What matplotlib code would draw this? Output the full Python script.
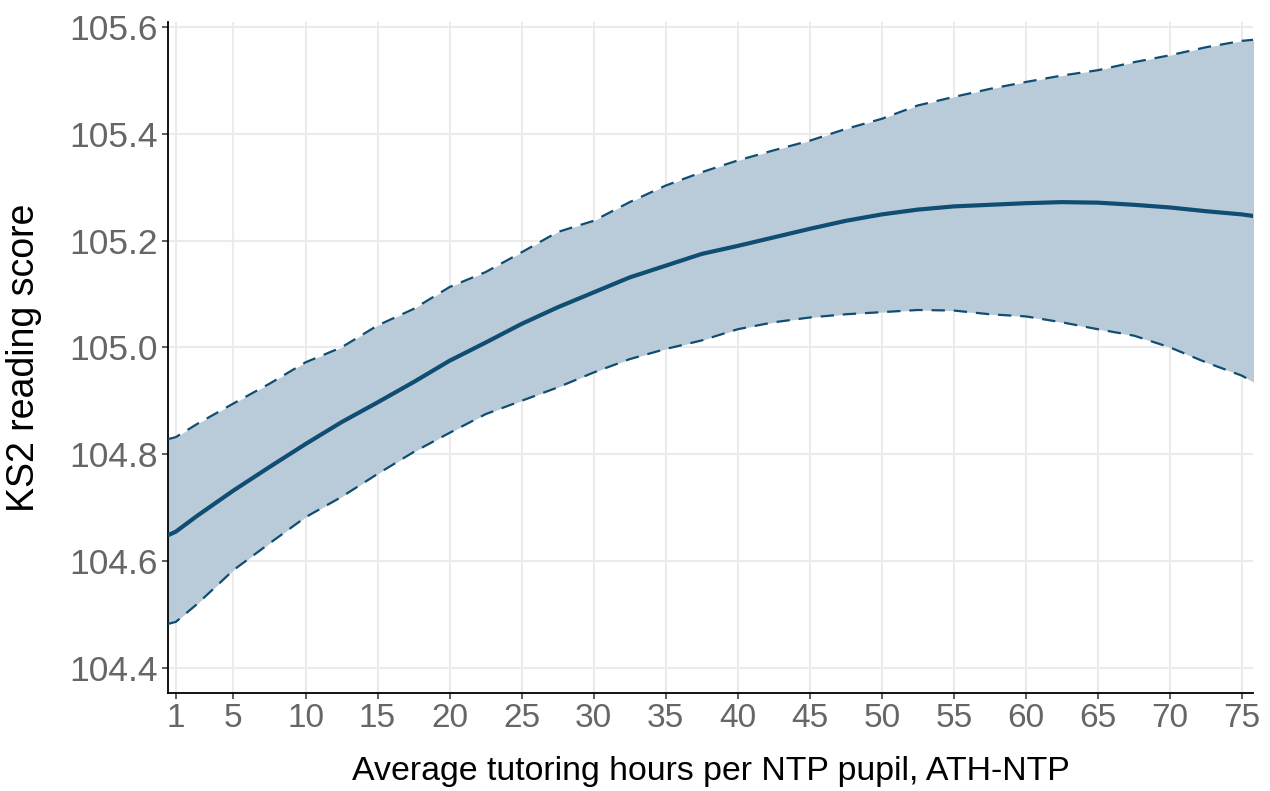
import matplotlib.pyplot as plt

plt.rcParams['font.family'] = ['Liberation Sans', 'DejaVu Sans']

# values, every 2.5 hours
hours = [0.43, 1, 2.5, 5, 7.5, 10, 12.5, 15, 17.5, 20, 22.5, 25, 27.5, 30, 32.5, 35, 37.5,
         40, 42.5, 45, 47.5, 50, 52.5, 55, 57.5, 60, 62.5, 65, 67.5, 70, 72.5, 75, 75.8]
fit = [104.648, 104.655, 104.685, 104.732, 104.776, 104.819, 104.86, 104.897, 104.935,
       104.975, 105.009, 105.044, 105.075, 105.103, 105.131, 105.153, 105.175, 105.19,
       105.206, 105.222, 105.237, 105.249, 105.258, 105.264, 105.267, 105.27, 105.272,
       105.271, 105.267, 105.262, 105.255, 105.249, 105.246]
upper = [104.828, 104.832, 104.857, 104.895, 104.932, 104.972, 105.0, 105.041, 105.072,
         105.113, 105.141, 105.178, 105.216, 105.237, 105.272, 105.303, 105.328, 105.35,
         105.369, 105.387, 105.409, 105.428, 105.453, 105.469, 105.484, 105.497, 105.509,
         105.519, 105.534, 105.547, 105.562, 105.574, 105.576]
lower = [104.482, 104.486, 104.52, 104.583, 104.633, 104.682, 104.72, 104.763, 104.804,
         104.84, 104.875, 104.9, 104.925, 104.953, 104.978, 104.997, 105.013, 105.034,
         105.047, 105.056, 105.062, 105.066, 105.07, 105.069, 105.062, 105.058, 105.047,
         105.034, 105.022, 105.0, 104.972, 104.947, 104.935]

xticks = [1, 5, 10, 15, 20, 25, 30, 35, 40, 45, 50, 55, 60, 65, 70, 75]
yticks = [104.4, 104.6, 104.8, 105.0, 105.2, 105.4, 105.6]

dark = '#0f4d72'
band = '#b9cbd8'

fig, ax = plt.subplots(figsize=(12.7, 7.91), dpi=100)
fig.subplots_adjust(left=0.132, right=0.987, top=0.972, bottom=0.124)

ax.fill_between(hours, lower, upper, color=band, lw=0, zorder=2)
ax.plot(hours, upper, color=dark, lw=1.6, ls=(0, (6, 4)), zorder=3)
ax.plot(hours, lower, color=dark, lw=1.6, ls=(0, (6, 4)), zorder=3)
ax.plot(hours, fit, color=dark, lw=3, zorder=4, solid_capstyle='butt')

ax.set_xlim(0.43, 75.8)
ax.set_ylim(104.353, 105.609)
ax.set_xticks(xticks)
ax.set_yticks(yticks)
ax.set_yticklabels([f'{v:.1f}' for v in yticks])

ax.grid(True, color='#ebebeb', lw=1.5, zorder=0)
ax.set_axisbelow(True)
for s in ['top', 'right']:
    ax.spines[s].set_visible(False)
for s in ['left', 'bottom']:
    ax.spines[s].set_linewidth(1.3)
    ax.spines[s].set_color('black')

ax.tick_params(axis='both', labelcolor='#666666', color='#333333',
               length=4, width=1.1, pad=3)
ax.tick_params(axis='x', labelsize=24)
ax.tick_params(axis='y', labelsize=25.5)
ax.set_xlabel('Average tutoring hours per NTP pupil, ATH-NTP', fontsize=24.4, labelpad=16)
ax.set_ylabel('KS2 reading score', fontsize=27, labelpad=20)

fig.savefig('out.png')
